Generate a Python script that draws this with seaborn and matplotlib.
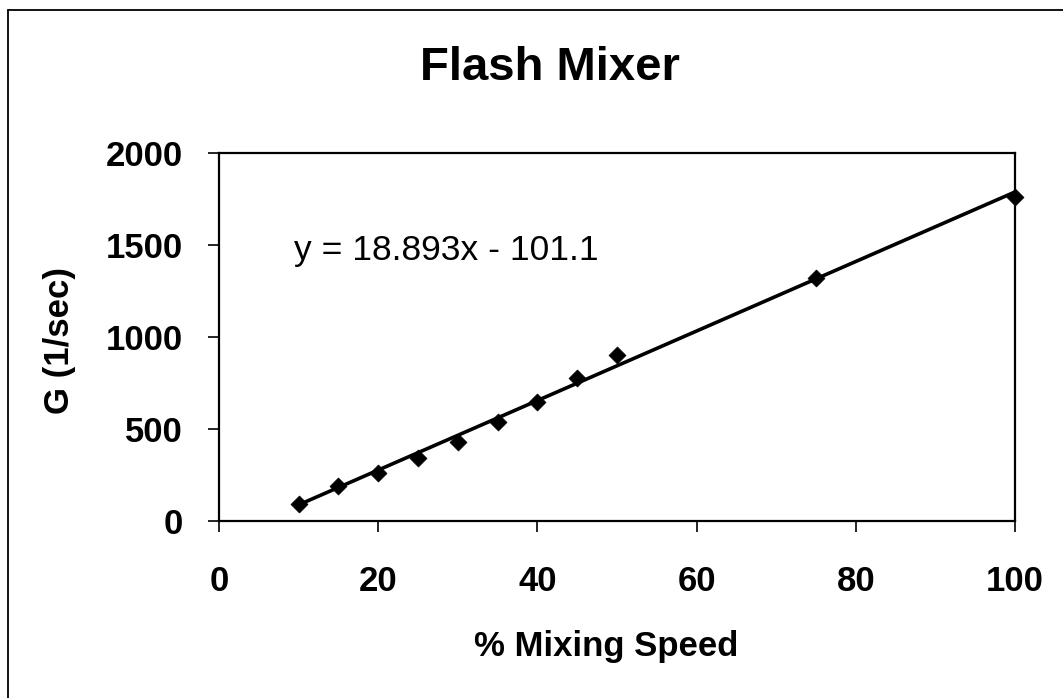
import matplotlib
matplotlib.use("Agg")
import matplotlib.pyplot as plt
from matplotlib.lines import Line2D
import numpy as np
import pandas as pd
import seaborn as sns

# Measured velocity gradient of the flash mixer at each speed setting
mixing_speed = [10, 15, 20, 25, 30, 35, 40, 45, 50, 75, 100]
g_values = [91, 190, 259, 341, 431, 540, 648, 775, 902, 1322, 1759]

# Linear trendline coefficients shown on the chart
slope = 18.893
intercept = -101.1

x_ticks = [0, 20, 40, 60, 80, 100]
y_ticks = [0, 500, 1000, 1500, 2000]

sns.set_theme(style="white")
plt.rcParams["font.family"] = ["Liberation Sans", "DejaVu Sans"]

W, H = 1063, 698
fig = plt.figure(figsize=(W / 100, H / 100), dpi=100)
fig.patch.set_facecolor("white")
ax = fig.add_axes([219 / W, 1 - 521 / H, (1015 - 219) / W, (521 - 153) / H])
ax.set_facecolor("white")

points = pd.DataFrame({"speed": mixing_speed, "G": g_values})
fit_x = np.array([min(mixing_speed), max(mixing_speed)], dtype=float)
fit = pd.DataFrame({"speed": fit_x, "G": slope * fit_x + intercept})

sns.lineplot(data=fit, x="speed", y="G", ax=ax, color="black", linewidth=2.6, zorder=2)
sns.scatterplot(data=points, x="speed", y="G", ax=ax, marker="D", s=75,
                color="black", edgecolor="black", linewidth=0.5, zorder=3, clip_on=False)

ax.set_xlim(0, 100)
ax.set_ylim(0, 2000)
ax.set_xticks(x_ticks)
ax.set_yticks(y_ticks)
ax.set_xticklabels([str(v) for v in x_ticks])
ax.set_yticklabels([str(v) for v in y_ticks])

for side in ["left", "right", "top", "bottom"]:
    ax.spines[side].set_visible(True)
    ax.spines[side].set_color("black")
    ax.spines[side].set_linewidth(1.6)

ax.tick_params(axis="both", which="major", direction="out", length=8, width=1.2,
               color="black", labelsize=25, labelcolor="black",
               bottom=True, left=True, top=False, right=False)
ax.tick_params(axis="y", pad=18)
ax.tick_params(axis="x", pad=24)
for lab in ax.get_xticklabels() + ax.get_yticklabels():
    lab.set_fontweight("bold")

ax.set_xlabel("% Mixing Speed", fontsize=25, fontweight="bold", color="black", va="center")
ax.set_ylabel("G (1/sec)", fontsize=25, fontweight="bold", color="black", va="center")
ax.xaxis.set_label_coords(0.487, -0.342)
ax.yaxis.set_label_coords(-0.20, 0.49)

ax.text(9.4, 1418, f"y = {slope}x - {abs(intercept)}", fontsize=25.5,
        color="black", ha="left", va="baseline")

fig.text(550 / W, 1 - 80 / H, "Flash Mixer", fontsize=34, fontweight="bold",
         color="black", ha="center", va="baseline")

# Chart-area frame
fig.add_artist(Line2D([8 / W, 8 / W], [0, 1 - 10 / H], transform=fig.transFigure,
                      color="black", linewidth=1.3))
fig.add_artist(Line2D([8 / W, 1], [1 - 10 / H, 1 - 10 / H], transform=fig.transFigure,
                      color="black", linewidth=1.3))

fig.savefig("out.png", dpi=100, facecolor="white")
